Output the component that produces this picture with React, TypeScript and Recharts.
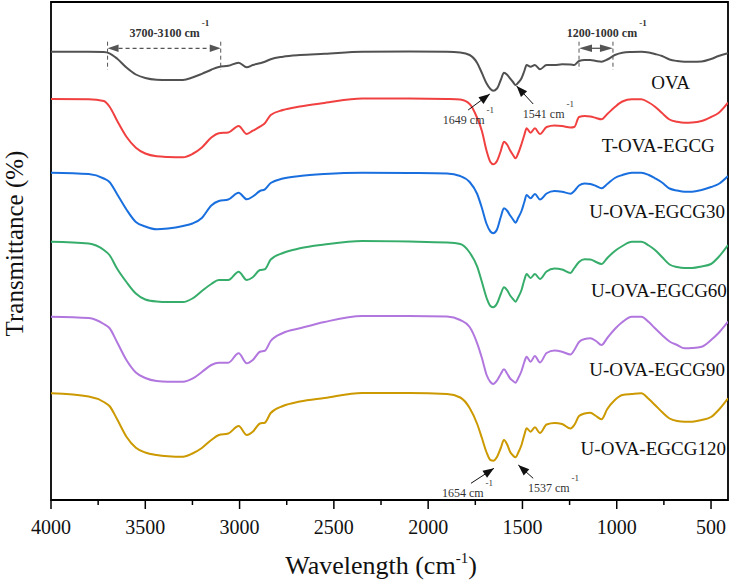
import React from 'react';
import { LineChart, Line, XAxis, YAxis, ReferenceArea, ReferenceLine, ReferenceDot } from 'recharts';

// FTIR spectra, stacked with offsets (arbitrary transmittance units)
const wavenumbers = [
  4000, 3800, 3720, 3690, 3650, 3600, 3550, 3500, 3440, 3380, 3300, 3250, 3200, 3150, 3110,
  3060, 3005, 2962, 2930, 2892, 2866, 2835, 2770, 2680, 2550, 2350, 2100, 1900, 1830, 1780,
  1740, 1715, 1690, 1670, 1655, 1635, 1615, 1598, 1580, 1565, 1550, 1537, 1522, 1505, 1490,
  1478, 1457, 1434, 1407, 1372, 1330, 1290, 1245, 1225, 1200, 1170, 1140, 1110, 1081, 1050,
  1010, 970, 920, 870, 830, 797, 760, 720, 680, 640, 600, 550, 500, 460, 410,
];

const ova = [
  448.3, 448.3, 448, 446.7, 441.5, 432.5, 425.5, 422, 420.3, 420, 420, 422.5, 426.2, 430.3, 433,
  434.2, 437.3, 432.7, 435, 436.7, 438.3, 440.8, 443.3, 445, 446.2, 448.3, 448.5, 448.3, 447.5, 445,
  437, 427, 416.5, 411, 409.3, 411.5, 420, 427.3, 425, 421.5, 418, 415, 417.5, 421.7, 429,
  435, 433.3, 435, 430.7, 435, 435, 435.7, 435.5, 435, 439, 440, 440, 439, 438.3, 440.5,
  445, 447.3, 448, 448.3, 447.5, 446, 444, 440.5, 439, 438.3, 438.3, 438.5, 441, 444, 446.7,
];

const tOvaEgcg = [
  401, 400.7, 399, 393.5, 379.5, 363.3, 352.3, 346.5, 343.7, 343, 342.7, 346, 352.5, 362.5, 366.8,
  367.5, 374, 366, 369.3, 373.3, 376.7, 385, 390, 393.5, 397, 401.5, 401.5, 401, 400.5, 396,
  382, 369, 349, 338, 335.7, 339, 349, 358.3, 355, 349.5, 345, 341.7, 347, 356, 365,
  371.7, 367.3, 371.7, 366, 373, 374.5, 374, 372.5, 373, 383, 384, 383.5, 382, 380.7, 386,
  393, 398.5, 400.7, 400.7, 397.5, 393.3, 387, 380.5, 378.3, 377.3, 377.5, 379, 383, 387, 397.3,
];

const uOvaEgcg30 = [
  327.3, 326, 321.5, 318, 306, 290.5, 278, 273.5, 270.7, 271.5, 274, 276.5, 282, 294.5, 299,
  300.5, 307.3, 300.7, 303.5, 309, 310.7, 317, 321.5, 324, 326, 327.3, 327, 326.5, 324, 318,
  306, 292, 276, 268.5, 266.7, 270.5, 283, 291.7, 289, 284.5, 280.5, 277.3, 282.5, 289, 298,
  305, 301.7, 306, 300.5, 306.5, 309, 308.3, 306.3, 309, 314.5, 316.5, 316, 314, 311.7, 316,
  322, 325, 327.3, 327.3, 325, 321.7, 317.5, 311.5, 309.5, 308.3, 308.3, 310, 313, 316, 324,
];

const uOvaEgcg60 = [
  258.3, 256.5, 250, 245, 231.5, 218, 206.5, 200.5, 198.5, 198, 198, 201.5, 209, 216, 220,
  220, 228.3, 220, 222.7, 230, 230.7, 240.5, 247, 251.7, 255.5, 259, 258.5, 257.5, 256, 247.5,
  233.3, 218, 202, 194, 192.7, 196.5, 206, 212.7, 209.5, 204.5, 201, 198.3, 203, 210, 220,
  226, 222, 226, 221, 228.5, 231.5, 230.5, 227, 232, 238, 240.7, 240.5, 238, 236, 242,
  249, 254, 258.3, 258.3, 254.5, 250, 243, 235.5, 233, 232, 232, 233.5, 236, 243, 255,
];

const uOvaEgcg90 = [
  183.3, 182, 176, 172, 158, 140, 127.5, 122, 119, 118.3, 118.3, 121.3, 128, 135, 137.3,
  137.3, 146.7, 136.7, 140, 148.3, 149.3, 159, 167, 171.7, 178, 184, 184, 183.5, 180, 173,
  156.7, 142, 125, 118, 116, 119.5, 126, 130.7, 126, 121.5, 119, 117.3, 122, 129, 138,
  143.3, 138.3, 144, 137.5, 147, 149.5, 148.3, 145.5, 150, 158, 161, 161.7, 159, 155, 162,
  171, 178, 183.3, 183.3, 178, 171.7, 165, 158.5, 155, 151.7, 152, 153.3, 160, 167, 178.3,
];

const uOvaEgcg120 = [
  106.7, 103.5, 98, 94, 81, 63.3, 52.3, 47.5, 45, 43.8, 43.3, 46.5, 52, 60, 65,
  66.5, 74, 65, 68.3, 76.5, 77.3, 87, 94, 98.5, 102, 107, 107, 106, 102.5, 92,
  76, 62, 47.5, 40, 39.3, 43, 52, 60, 55, 48, 44.5, 42.7, 47.5, 55, 65,
  71.7, 68.3, 72.7, 67, 75.5, 77, 76, 71.5, 75, 84, 86.5, 87.3, 84, 80.7, 91,
  100, 105, 106, 106.7, 101, 95, 88, 81.5, 79, 78.3, 78.3, 80, 83, 90, 101.7,
];

const xTicks = [4000, 3750, 3500, 3250, 3000, 2750, 2500, 2250, 2000, 1750, 1500, 1250, 1000, 750, 500];

const seriesNames = ['OVA', 'T-OVA-EGCG', 'U-OVA-EGCG30', 'U-OVA-EGCG60', 'U-OVA-EGCG90', 'U-OVA-EGCG120'];
const seriesValues = [ova, tOvaEgcg, uOvaEgcg30, uOvaEgcg60, uOvaEgcg90, uOvaEgcg120];
const colors = ['#515151', '#F14040', '#1A6FDF', '#37AD6B', '#B177DE', '#CC9900'];

// where each curve name sits (right end of text), in chart units
const nameSpots = [
  { w: 612, v: 410.7 },
  { w: 480, v: 348.3 },
  { w: 426, v: 281.7 },
  { w: 416, v: 202.7 },
  { w: 426, v: 124.3 },
  { w: 421, v: 45 },
];

const keys = ['s0', 's1', 's2', 's3', 's4', 's5'];
const rows = wavenumbers.map((w, i) => {
  const r: any = { w };
  seriesValues.forEach((arr, k) => (r[keys[k]] = arr[i]));
  return r;
});

const FONT = '"Liberation Serif", "Times New Roman", serif';

function WaveTick(props: any) {
  const { x, y, payload } = props;
  const major = payload.value % 500 === 0;
  return (
    <g>
      <line x1={x} x2={x} y1={y} y2={y + (major ? 9 : 5)} stroke="#000" strokeWidth={1.5} />
      {major && (
        <text x={x} y={y + 34} textAnchor="middle" fontSize={20} fontFamily={FONT} fill="#111">
          {payload.value}
        </text>
      )}
    </g>
  );
}

function head(tx: number, ty: number, fx: number, fy: number, len: number, half: number, fill: string) {
  const dx = tx - fx;
  const dy = ty - fy;
  const d = Math.hypot(dx, dy) || 1;
  const ux = dx / d;
  const uy = dy / d;
  const bx = tx - ux * len;
  const by = ty - uy * len;
  return (
    <polygon
      points={`${tx},${ty} ${bx - uy * half},${by + ux * half} ${bx + uy * half},${by - ux * half}`}
      fill={fill}
    />
  );
}

// double headed arrow between two bracket lines
const bracketArrow = (dash: string | undefined, len: number) => (p: any) => {
  const { x1, y1, x2, y2 } = p;
  const dir = x2 > x1 ? 1 : -1;
  return (
    <g>
      <line
        x1={x1 + dir * len}
        y1={y1}
        x2={x2 - dir * len}
        y2={y2}
        stroke="#555"
        strokeWidth={1.3}
        strokeDasharray={dash}
      />
      {head(x1, y1, x2, y2, len, 3.8, '#555')}
      {head(x2, y2, x1, y1, len, 3.8, '#555')}
    </g>
  );
};

// single arrow pointing at a peak (segment goes tail -> tip)
const peakArrow = (p: any) => {
  const { x1, y1, x2, y2 } = p;
  return (
    <g>
      <line x1={x1} y1={y1} x2={x2} y2={y2} stroke="#111" strokeWidth={1} />
      {head(x2, y2, x1, y1, 11, 4.2, '#111')}
    </g>
  );
};

const noteText = (main: string, size: number, bold: boolean, anchor: 'start' | 'middle') => (p: any) => (
  <text
    x={p.cx}
    y={p.cy}
    textAnchor={anchor}
    fontFamily={FONT}
    fontSize={size}
    fontWeight={bold ? 'bold' : 'normal'}
    fill="#333"
  >
    {main}
    <tspan dx={2} dy={-11} fontSize={9}>
      -1
    </tspan>
  </text>
);

const nameText = (name: string) => (p: any) => (
  <text x={p.cx} y={p.cy} textAnchor="end" fontFamily={FONT} fontSize={19} fill="#111">
    {name}
  </text>
);

// both axis titles are drawn from the x axis label slot
const AxisTitles = () => (
  <g>
    <text x={381} y={574} textAnchor="middle" fontFamily={FONT} fontSize={26} fill="#111">
      Wavelength (cm
      <tspan dy={-11} fontSize={15}>
        -1
      </tspan>
      <tspan dy={11}>)</tspan>
    </text>
    <text
      transform="rotate(-90)"
      x={-243.5}
      y={23}
      textAnchor="middle"
      fontFamily={FONT}
      fontSize={25}
      fill="#111"
    >
      Transmittance (%)
    </text>
  </g>
);

export default function App() {
  return (
    <div style={{ position: 'absolute', left: 0, top: 0, width: 731, height: 584, background: '#fff' }}>
      <LineChart width={731} height={584} data={rows} margin={{ top: 2, right: 3, bottom: 0, left: 51 }}>
        <XAxis
          dataKey="w"
          type="number"
          domain={[410, 4000]}
          reversed
          allowDataOverflow
          ticks={xTicks}
          interval={0}
          tick={(p: any) => <WaveTick {...p} />}
          tickLine={false}
          axisLine={false}
          tickSize={0}
          tickMargin={0}
          height={84}
          label={{ content: () => <AxisTitles /> }}
        />
        <YAxis type="number" domain={[0, 498]} allowDataOverflow hide />
        {keys.map((k, i) => (
          <Line
            key={k}
            dataKey={k}
            name={seriesNames[i]}
            type="monotone"
            stroke={colors[i]}
            strokeWidth={2}
            dot={false}
            activeDot={false}
            isAnimationActive={false}
          />
        ))}
        <ReferenceArea
          x1={4000}
          x2={410}
          y1={0}
          y2={498}
          fill="none"
          fillOpacity={0}
          stroke="#000"
          strokeWidth={1.8}
          ifOverflow="visible"
        />

        {/* 3700-3100 cm-1 bracket */}
        <ReferenceLine segment={[{ x: 3700, y: 458.3 }, { x: 3700, y: 430 }]} stroke="#555" strokeDasharray="4 3" />
        <ReferenceLine segment={[{ x: 3100, y: 458.3 }, { x: 3100, y: 430 }]} stroke="#555" strokeDasharray="4 3" />
        <ReferenceLine segment={[{ x: 3700, y: 451.7 }, { x: 3100, y: 451.7 }]} shape={bracketArrow('4 3', 11)} />
        <ReferenceDot x={3372} y={463.3} r={0} shape={noteText('3700-3100 cm', 12, true, 'middle')} />

        {/* 1200-1000 cm-1 bracket */}
        <ReferenceLine segment={[{ x: 1200, y: 458.3 }, { x: 1200, y: 430 }]} stroke="#555" strokeDasharray="4 3" />
        <ReferenceLine segment={[{ x: 1020, y: 458.3 }, { x: 1020, y: 430 }]} stroke="#555" strokeDasharray="4 3" />
        <ReferenceLine segment={[{ x: 1200, y: 451.7 }, { x: 1020, y: 451.7 }]} shape={bracketArrow(undefined, 13)} />
        <ReferenceDot x={1053} y={463.3} r={0} shape={noteText('1200-1000 cm', 12, true, 'middle')} />

        {/* peak arrows */}
        <ReferenceLine segment={[{ x: 1788, y: 390 }, { x: 1673, y: 406 }]} shape={peakArrow} />
        <ReferenceDot x={1922} y={376} r={0} shape={noteText('1649 cm', 12, false, 'start')} />
        <ReferenceLine segment={[{ x: 1443, y: 396 }, { x: 1531, y: 414 }]} shape={peakArrow} />
        <ReferenceDot x={1498} y={382} r={0} shape={noteText('1541 cm', 12, false, 'start')} />
        <ReferenceLine segment={[{ x: 1773, y: 16.7 }, { x: 1651, y: 31.7 }]} shape={peakArrow} />
        <ReferenceDot x={1927} y={3} r={0} shape={noteText('1654 cm', 12, false, 'start')} />
        <ReferenceLine segment={[{ x: 1443, y: 21.7 }, { x: 1522, y: 35 }]} shape={peakArrow} />
        <ReferenceDot x={1471} y={8} r={0} shape={noteText('1537 cm', 12, false, 'start')} />

        {seriesNames.map((n, i) => (
          <ReferenceDot key={n} x={nameSpots[i].w} y={nameSpots[i].v} r={0} shape={nameText(n)} />
        ))}
      </LineChart>
    </div>
  );
}
